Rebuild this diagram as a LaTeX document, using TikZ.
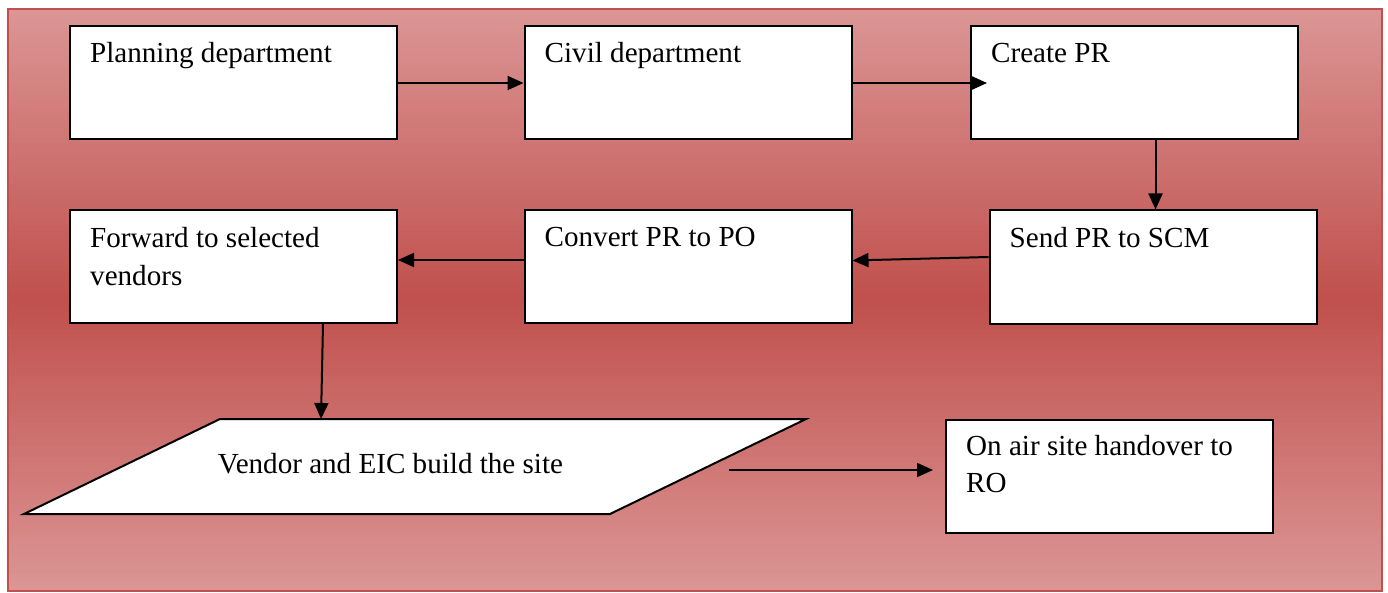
\documentclass[tikz,border=0pt]{standalone}
\usepackage{fontspec}
\setmainfont{Liberation Serif}
\usetikzlibrary{arrows.meta}
\definecolor{deepRed}{RGB}{192,80,77}
\definecolor{paleRed}{RGB}{219,150,149}
\definecolor{edgeRed}{RGB}{196,78,76}
\begin{document}
\begin{tikzpicture}[x=1pt,y=-1pt,
  stepbox/.style={draw=black, line width=2pt, fill=white,
    minimum width=327pt, minimum height=113pt, inner sep=0pt},
  boxtext/.style={anchor=base west, inner sep=0pt, align=left,
    font=\fontsize{29.1}{38}\selectfont},
  flow/.style={line width=2pt, -{Triangle[length=16pt,width=14pt]}}]
\useasboundingbox (0,0) rectangle (1388,593);

% panel behind the flow chart: pale at top and bottom, deep red in the middle
\foreach \i in {0,...,99}{
  \pgfmathsetmacro\mix{100*abs(\i+0.5-50)/50}
  \pgfmathsetmacro\ytop{9.5+\i*5.815}
  \fill[paleRed!\mix!deepRed] (7.5,\ytop) rectangle (1382,\ytop+6.3);
}
\draw[edgeRed, line width=2pt] (7.5,9.5) rectangle (1382,591);

% process boxes
\node[stepbox] (plan)    at (233.5,83)   {};
\node[stepbox] (civil)   at (688,83)     {};
\node[stepbox] (create)  at (1134.5,83)  {};
\node[stepbox] (send)    at (1153,267)   {};
\node[stepbox] (convert) at (688,266.5)  {};
\node[stepbox] (forward) at (233.5,266.5){};
\node[stepbox] (onair)   at (1109.5,476.5){};

% box captions (two-line captions sit on the baseline of their last line)
\node[boxtext] at ([shift={(21,37)}]plan.north west)    {Planning department};
\node[boxtext] at ([shift={(21,37)}]civil.north west)   {Civil department};
\node[boxtext] at ([shift={(21,37)}]create.north west)  {Create PR};
\node[boxtext] at ([shift={(21,38)}]send.north west)    {Send PR to SCM};
\node[boxtext] at ([shift={(21,38)}]convert.north west) {Convert PR to PO};
\node[boxtext] at ([shift={(21,76.5)}]forward.north west) {Forward to selected\\vendors};
\node[boxtext, font=\fontsize{29.1}{37}\selectfont]
  at ([shift={(21,73.5)}]onair.north west) {On air site handover to\\RO};

% build step (parallelogram)
\draw[line width=2pt, fill=white] (220,419) -- (806,419) -- (610,514) -- (24,514) -- cycle;
\node[boxtext, anchor=base] (build) at (390.5,473) {Vendor and EIC build the site};
\coordinate (buildtop) at (321,419);
\coordinate (buildout) at (729,470);

% connectors
\draw[flow] (plan.east) -- (civil.west);
\draw[flow] (civil.east) -- ([shift={(17,0)}]create.west);
\draw[flow] ([shift={(21,0)}]create.south) -- ([shift={(21,0)}]create.south |- send.north);
\draw[flow] ([shift={(0,-10)}]send.west) -- ([shift={(0,-6)}]convert.east);
\draw[flow] ([shift={(0,-6.5)}]convert.west) -- ([shift={(0,-6.5)}]forward.east);
\draw[flow] ([shift={(89.5,0)}]forward.south) -- (buildtop);
\draw[flow] (buildout) -- ([shift={(-12,-6.5)}]onair.west);
\end{tikzpicture}
\end{document}
